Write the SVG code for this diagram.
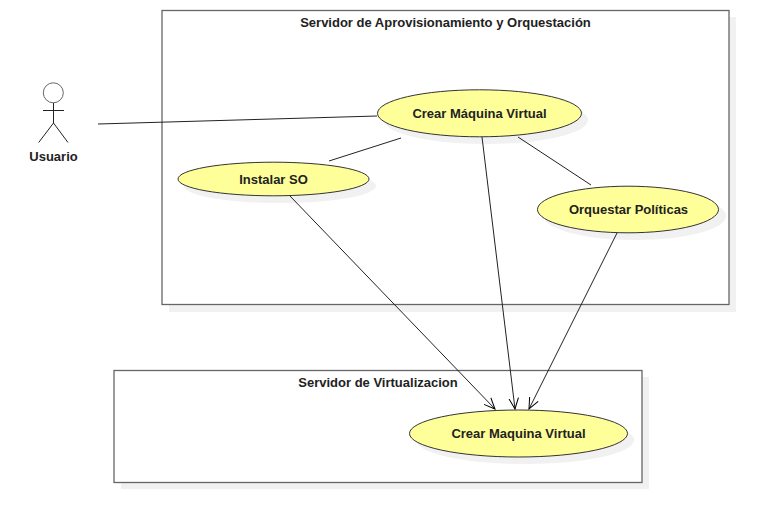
<svg xmlns="http://www.w3.org/2000/svg" width="769" height="522" viewBox="0 0 769 522">
<defs>
<marker id="arrow" markerUnits="userSpaceOnUse" markerWidth="14" markerHeight="14" refX="11" refY="7" orient="auto"><path d="M0 2.200L11 7L0 11.800" fill="none" stroke="#000" stroke-width="1"/></marker>
</defs>
<style>
.shadow{fill:#f1f1f1;stroke:none}
.sys{fill:#fff;stroke:#666;stroke-width:1.300}
.uc{fill:#ffff99;stroke:#333;stroke-width:1}
.t{font-family:"Liberation Sans",Arial,sans-serif;font-size:13px;font-weight:bold;fill:#222;text-anchor:middle}
.c{stroke:#222;stroke-width:1;fill:none}
.a{fill:none;stroke:#222;stroke-width:1}
</style>
<g id="sistema-aprovisionamiento"><rect class="shadow" x="169" y="17" width="567" height="295"/><rect class="sys" x="162" y="10.500" width="567" height="294"/><text class="t" x="445.500" y="27">Servidor de Aprovisionamiento y Orquestación</text></g>
<g id="sistema-virtualizacion"><rect class="shadow" x="121" y="377" width="528" height="112"/><rect class="sys" x="114" y="370.500" width="528" height="112"/><text class="t" x="378" y="387">Servidor de Virtualizacion</text></g>
<g id="usuario"><circle cx="53.300" cy="92.800" r="10" fill="#fff" stroke="#666"/><path class="a" d="M53.500 103V123M43 110.500H64M53.500 123L38.700 142.500M53.500 123L68 142.500"/><text class="t" x="53.500" y="160.500">Usuario</text></g>
<g id="crear-maquina-virtual"><ellipse class="shadow" cx="486" cy="120" rx="102" ry="24"/><ellipse class="uc" cx="479.500" cy="113.300" rx="102" ry="23.500"/><text class="t" x="479.500" y="118">Crear Máquina Virtual</text></g>
<g id="instalar-so"><ellipse class="shadow" cx="280" cy="186" rx="96" ry="17"/><ellipse class="uc" cx="273.500" cy="179" rx="95.500" ry="16.800"/><text class="t" x="273.500" y="184">Instalar SO</text></g>
<g id="orquestar-politicas"><ellipse class="shadow" cx="635" cy="216" rx="91" ry="24"/><ellipse class="uc" cx="628" cy="209.500" rx="90.500" ry="23.300"/><text class="t" x="628.500" y="214">Orquestar Políticas</text></g>
<g id="crear-maquina-virtual-2"><ellipse class="shadow" cx="525" cy="440" rx="109" ry="24"/><ellipse class="uc" cx="518.500" cy="433.500" rx="109" ry="23.500"/><text class="t" x="518.500" y="438">Crear Maquina Virtual</text></g>
<g id="connectors">
<path class="c" d="M98 124L377 116"/>
<path class="c" d="M329 161L401 138"/>
<path class="c" d="M518 137L591 185"/>
<path class="c" d="M290 196L495 409" marker-end="url(#arrow)"/>
<path class="c" d="M482 137L515 409" marker-end="url(#arrow)"/>
<path class="c" d="M617 233L529 409" marker-end="url(#arrow)"/>
</g>
</svg>
